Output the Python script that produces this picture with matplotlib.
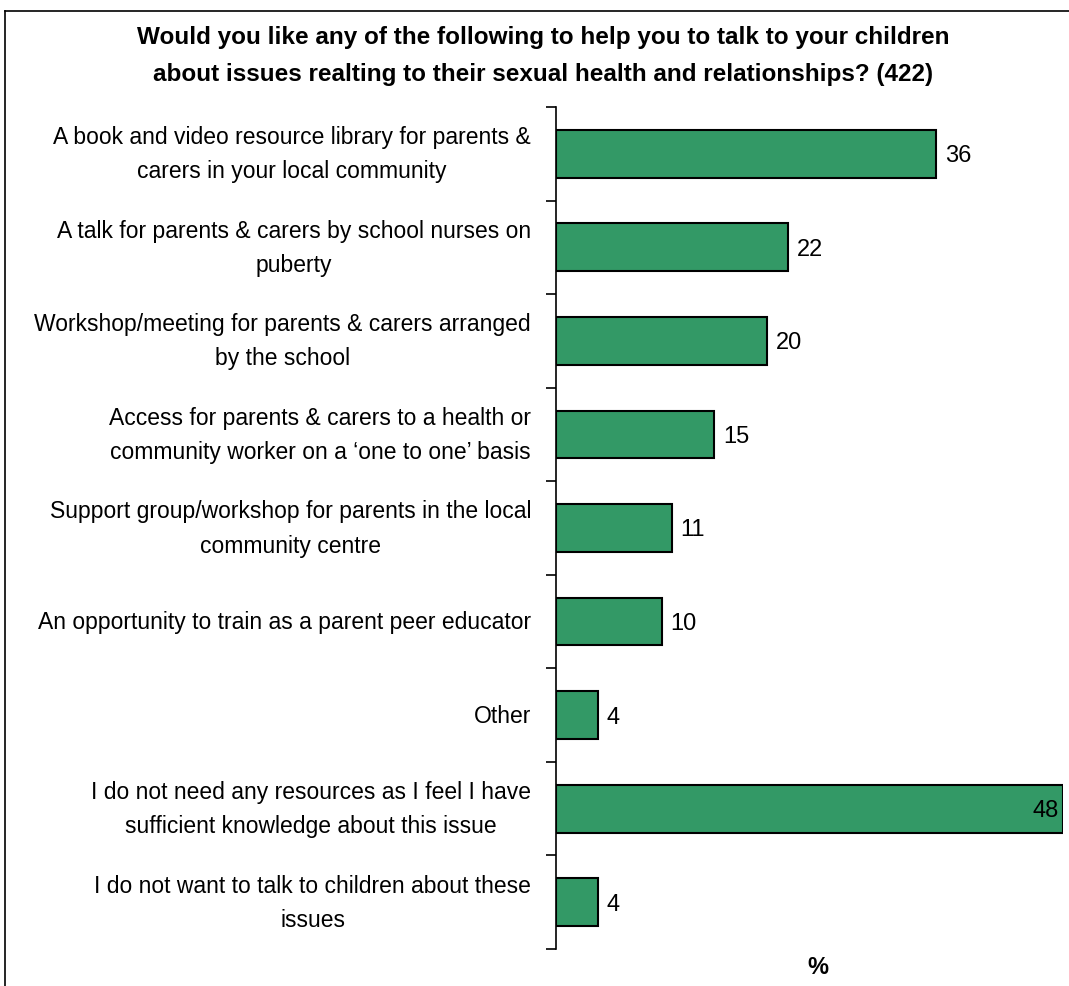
import matplotlib
matplotlib.use("Agg")
import matplotlib.pyplot as plt
from matplotlib.lines import Line2D

plt.rcParams["font.family"] = ["Liberation Sans", "DejaVu Sans"]

TITLE = ("Would you like any of the following to help you to talk to your children\n"
         "about issues realting to their sexual health and relationships? (422)")
LABELS = [
    "A book and video resource library for parents &\ncarers in your local community",
    "A talk for parents & carers by school nurses on\npuberty",
    "Workshop/meeting for parents & carers arranged\nby the school",
    "Access for parents & carers to a health or\ncommunity worker on a \u2018one to one\u2019 basis",
    "Support group/workshop for parents in the local\ncommunity centre",
    "An opportunity to train as a parent peer educator",
    "Other",
    "I do not need any resources as I feel I have\nsufficient knowledge about this issue",
    "I do not want to talk to children about these\nissues",
]
VALUES = [36, 22, 20, 15, 11, 10, 4, 48, 4]

GREEN = "#339966"

fig = plt.figure(figsize=(10.69, 9.87), dpi=100)
ax = fig.add_axes([556 / 1069, 1 - 950 / 987, 507 / 1069, 842 / 987])

ys = list(range(len(VALUES)))
ax.barh(ys, VALUES, height=0.51, color=GREEN, edgecolor="black", linewidth=1.5, zorder=3)

for y, v in zip(ys, VALUES):
    if v >= 45:
        ax.annotate(f"{v}", (v, y), xytext=(-3, -1), textcoords="offset points",
                    ha="right", va="center", fontsize=17)
    else:
        ax.annotate(f"{v}", (v, y), xytext=(6, -1), textcoords="offset points",
                    ha="left", va="center", fontsize=17)

ax.set_xlim(0, 48)
ax.set_ylim(len(VALUES) - 0.5, -0.5)
ax.set_yticks(ys)
ax.set_yticklabels(LABELS, fontsize=16.5, linespacing=1.62, multialignment="center")
for lab in ax.get_yticklabels():
    lab.set_va("center")
ax.tick_params(axis="y", which="major", length=0, pad=18)
ax.set_yticks([i - 0.5 for i in range(len(VALUES) + 1)], minor=True)
ax.tick_params(axis="y", which="minor", length=7, width=1.2, direction="out")
ax.set_xticks([])
for side in ("top", "right", "bottom"):
    ax.spines[side].set_visible(False)
ax.spines["left"].set_linewidth(1.2)

fig.text(543 / 1069, 1 - 56 / 987, TITLE, ha="center", va="center",
         fontsize=17.5, fontweight="bold", linespacing=1.74)
fig.text(818 / 1069, 1 - 968 / 987, "%", ha="center", va="center",
         fontsize=17, fontweight="bold")

# outer chart border (only top and left edges inside the image)
fig.add_artist(Line2D([5 / 1069, 1], [1 - 12 / 987, 1 - 12 / 987],
                      transform=fig.transFigure, color="black", lw=1.2))
fig.add_artist(Line2D([5 / 1069, 5 / 1069], [0, 1 - 12 / 987],
                      transform=fig.transFigure, color="black", lw=1.2))

fig.savefig("out.png", dpi=100, facecolor="white")
